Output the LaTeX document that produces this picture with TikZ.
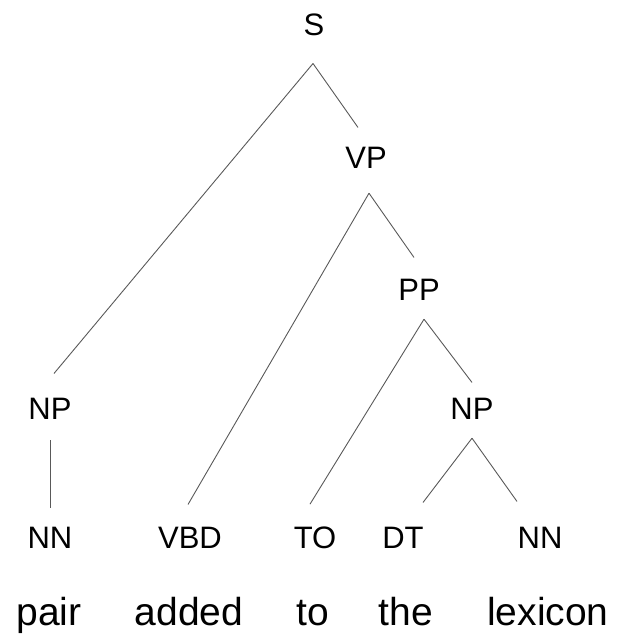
\documentclass[tikz,border=0pt]{standalone}
\usepackage{fontspec}
\setmainfont{Liberation Sans}
\tikzset{
	tag/.style={font=\fontsize{31}{31}\selectfont, inner sep=0pt, anchor=base},
	word/.style={font=\fontsize{39}{39}\selectfont, inner sep=0pt, anchor=base},
	branch/.style={draw=black!65, line width=0.9pt}
}

\begin{document}
\begin{tikzpicture}[x=1pt, y=-1pt]
	\useasboundingbox (0,0) rectangle (618,636);

	% phrase labels
	\node[tag] (S)   at (314,36)  {S};
	\node[tag] (VP)  at (366,169) {VP};
	\node[tag] (PP)  at (419,300) {PP};
	\node[tag] (NPa) at (50,419)  {NP};
	\node[tag] (NPb) at (472,419) {NP};

	% part-of-speech tags
	\node[tag] (NNa) at (50,548)  {NN};
	\node[tag] (VBD) at (190,548) {VBD};
	\node[tag] (TO)  at (315,548) {TO};
	\node[tag] (DT)  at (403,548) {DT};
	\node[tag] (NNb) at (540,548) {NN};

	% words
	\node[word] (pair)    at (49,625)  {pair};
	\node[word] (added)   at (189,625) {added};
	\node[word] (to)      at (313,625) {to};
	\node[word] (the)     at (406,625) {the};
	\node[word] (lexicon) at (548,625) {lexicon};

	\draw[branch] ([xshift=-1pt, yshift=-27pt]S.south) -- ([xshift=4pt, yshift=24pt]NPa.north);
	\draw[branch] ([xshift=-1pt, yshift=-27pt]S.south) -- ([xshift=-8pt, yshift=20pt]VP.north);
	\draw[branch] ([xshift=3pt, yshift=-24pt]VP.south) -- ([xshift=-2pt, yshift=22pt]VBD.north);
	\draw[branch] ([xshift=3pt, yshift=-24pt]VP.south) -- ([xshift=-5pt, yshift=21pt]PP.north);
	\draw[branch] ([xshift=5pt, yshift=-19pt]PP.south) -- ([xshift=-5pt, yshift=22pt]TO.north);
	\draw[branch] ([xshift=5pt, yshift=-19pt]PP.south) -- ([yshift=15pt]NPb.north);
	\draw[branch] ([yshift=-21pt]NPa.south) -- ([yshift=18pt]NNa.north);
	\draw[branch] ([yshift=-19pt]NPb.south) -- ([xshift=20pt, yshift=24pt]DT.north);
	\draw[branch] ([yshift=-19pt]NPb.south) -- ([xshift=-23pt, yshift=25pt]NNb.north);
\end{tikzpicture}
\end{document}
